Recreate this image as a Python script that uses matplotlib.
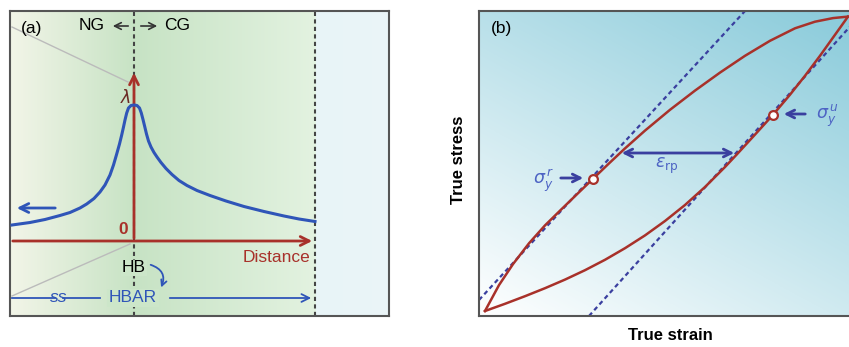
import matplotlib
matplotlib.use("Agg")
import matplotlib.pyplot as plt
import numpy as np

plt.rcParams['font.family'] = ['Liberation Sans', 'DejaVu Sans']

# ---- panel (a): lambda vs distance from the boundary (HB at 0) ----
dist = [-122, -104, -89, -74, -64, -54, -47.3, -40, -34, -29, -24, -20.5, -17.3,
        -14.5, -12.3, -10.5, -9, -7.3, -5.5, -3, 0, 3, 5.5, 7.3, 9, 10.7, 12.5,
        14.5, 17, 20, 23, 27, 32, 38, 45, 53, 63, 76, 92, 110, 130, 150, 165, 181]
lam = [16, 18.5, 21.5, 25.5, 28.5, 33, 37, 42.5, 49, 56, 66, 76, 87,
       97, 106, 114, 121, 128, 133, 135.5, 136, 135.5, 133, 128, 121.5, 114.5, 107,
       100, 94, 88.5, 84, 78.5, 72.5, 66.5, 60.5, 55.5, 50.5, 45.5, 40, 34.5, 29.5,
       25, 22, 19.5]
hbar_end = 181      # end of the HBAR zone

# ---- panel (b): loading / unloading loop (arbitrary units) ----
load_strain = [0, 14, 28, 44, 60, 76, 92, 108, 124, 140, 160, 185, 210, 235, 260,
               285, 310, 330, 348, 363]
load_stress = [0, 25.9, 46.9, 67.7, 85.6, 101.3, 116.8, 132.2, 147.6, 162.6, 180.4,
               201.2, 220.4, 238.4, 255.2, 270.2, 282.7, 289.3, 292.9, 294.4]
unload_strain = [0, 20, 40, 60, 80, 100, 120, 140, 160, 180, 200, 220, 240, 252,
                 270, 288, 305, 320, 335, 350, 363]
unload_stress = [0, 7.2, 14.8, 22.8, 31.4, 40.8, 51.2, 62.8, 75.6, 90, 106, 124, 144,
                 156.8, 176.4, 196.2, 216.3, 235.2, 255.2, 276.2, 294.4]
elastic1_strain = [-6, 260]
elastic1_stress = [11, 300]
elastic2_strain = [104, 375]
elastic2_stress = [-5, 295.5]
sig_r = (108, 132)
sig_u = (288, 196.5)
erp_strain = [134, 252]
erp_stress = 158

red = '#a8312a'
blue = '#2f55b8'
navy = '#3a3f9f'
lblue = '#4d63c4'
gray = '#444444'

W, H = 849, 347
fig = plt.figure(figsize=(W / 100, H / 100), dpi=100)
fs = 12.5


def add_panel(x0, x1, y0, y1, xlim, ylim):
    ax = fig.add_axes([x0 / W, 1 - y1 / H, (x1 - x0) / W, (y1 - y0) / H])
    ax.set_xlim(*xlim)
    ax.set_ylim(*ylim)
    ax.set_xticks([])
    ax.set_yticks([])
    for s in ax.spines.values():
        s.set_color('#555555')
        s.set_linewidth(1.5)
    return ax


# ================= panel (a) =================
ax = add_panel(10, 389, 11, 316, (-124, 255), (-75, 230))
xs = np.linspace(-124, 255, 400)
stops_x = [-124, 0, hbar_end, hbar_end + 0.01, 255]
stops_c = np.array([[0.95, 0.96, 0.91], [0.78, 0.89, 0.77], [0.89, 0.95, 0.88],
                    [0.91, 0.96, 0.97], [0.92, 0.96, 0.97]])
grad = np.stack([np.interp(xs, stops_x, stops_c[:, k]) for k in range(3)], axis=-1)
ax.imshow(grad[None, :, :], extent=(-124, 255, -75, 230), aspect='auto', zorder=0)

ax.plot([-122, -6], [214, 159], color='#bbbbbb', lw=1, zorder=1)
ax.plot([-122, -4], [-55, -3], color='#bbbbbb', lw=1, zorder=1)

for xv in (0, hbar_end):
    ax.plot([xv, xv], [-75, 230], color=gray, lw=1.5, ls=(0, (2, 1.6)), zorder=2)

ax.annotate('', xy=(0, 171), xytext=(0, 0),
            arrowprops=dict(arrowstyle='->', color=red, lw=2, mutation_scale=16), zorder=4)
ax.annotate('', xy=(hbar_end, 0), xytext=(-124, 0),
            arrowprops=dict(arrowstyle='->', color=red, lw=2, mutation_scale=16), zorder=4)
ax.plot(dist, lam, color=blue, lw=2.2, zorder=5, solid_joinstyle='round')
ax.annotate('', xy=(-120, 33), xytext=(-76, 33),
            arrowprops=dict(arrowstyle='->', color=blue, lw=2, mutation_scale=16))

ax.text(-102, 213, '(a)', fontsize=fs, ha='center', va='center')
ax.text(-42, 215, 'NG', fontsize=fs, ha='center', va='center')
ax.text(43, 215, 'CG', fontsize=fs, ha='center', va='center')
ax.annotate('', xy=(-24, 215), xytext=(-3, 215),
            arrowprops=dict(arrowstyle='->', color='#333333', lw=1.2, mutation_scale=12))
ax.annotate('', xy=(26, 215), xytext=(4, 215),
            arrowprops=dict(arrowstyle='->', color='#333333', lw=1.2, mutation_scale=12))
ax.text(-8, 144, r'$\lambda$', fontsize=fs, color='#6b2a25', ha='center', va='center')
ax.text(-11, 12, '0', fontsize=fs, color=red, ha='center', va='center',
        fontweight='bold')
ax.text(176, -17, 'Distance', fontsize=fs, color=red, ha='right', va='center')
ax.text(0, -27, 'HB', fontsize=fs, ha='center', va='center', zorder=6,
        bbox=dict(boxstyle='square,pad=0.05', fc=(0.80, 0.90, 0.79), ec='none'))
ax.annotate('', xy=(26, -49), xytext=(14, -23),
            arrowprops=dict(arrowstyle='->', color=blue, lw=1.3, mutation_scale=10,
                            connectionstyle='arc3,rad=-0.6'))
ax.plot([-122, -79], [-57, -57], color=blue, lw=1.3)
ax.text(-75, -57, 'ss', fontsize=fs, color=blue, style='italic', ha='center', va='center')
ax.plot([-71, -34], [-57, -57], color=blue, lw=1.3)
ax.text(-1, -57, 'HBAR', fontsize=fs, color=blue, ha='center', va='center', zorder=6,
        bbox=dict(boxstyle='square,pad=0.1', fc=(0.80, 0.90, 0.79), ec='none'))
ax.annotate('', xy=(180, -57), xytext=(33, -57),
            arrowprops=dict(arrowstyle='->', color=blue, lw=1.3, mutation_scale=14))

# ================= panel (b) =================
bx = add_panel(479, 860, 11, 316, (-6, 375), (-5, 300))
gx, gy = np.meshgrid(np.linspace(0, 1, 200), np.linspace(0, 1, 200))
t = np.clip(0.62 * (1 - gy) + 0.42 * gx, 0, 1)
c0 = np.array([1.0, 1.0, 1.0])
c1 = np.array([0.55, 0.80, 0.86])
img = c0 * (1 - t[..., None]) + c1 * t[..., None]
bx.imshow(img, extent=(-6, 375, -5, 300), aspect='auto', zorder=0)

bx.plot(elastic1_strain, elastic1_stress, color=navy, lw=1.6, ls=(0, (2, 1.5)), zorder=2)
bx.plot(elastic2_strain, elastic2_stress, color=navy, lw=1.6, ls=(0, (2, 1.5)), zorder=2)
bx.plot(load_strain, load_stress, color=red, lw=1.8, zorder=3, solid_joinstyle='round')
bx.plot(unload_strain, unload_stress, color=red, lw=1.8, zorder=3, solid_joinstyle='round')
bx.scatter([sig_r[0], sig_u[0]], [sig_r[1], sig_u[1]], s=40, facecolor='white',
           edgecolor=red, linewidth=1.6, zorder=5)
bx.annotate('', xy=(erp_strain[1], erp_stress), xytext=(erp_strain[0], erp_stress),
            arrowprops=dict(arrowstyle='<->', color=navy, lw=2, mutation_scale=14), zorder=4)
bx.text(182, 145, r'$\varepsilon_{\mathrm{rp}}$', fontsize=fs, color=lblue,
        ha='center', va='center')
bx.annotate('', xy=(101, 133), xytext=(73, 133),
            arrowprops=dict(arrowstyle='->', color=navy, lw=2, mutation_scale=14))
bx.text(59, 130, r'$\sigma_y^{\,r}$', fontsize=fs, color=lblue, ha='center', va='center')
bx.annotate('', xy=(296, 197), xytext=(323, 197),
            arrowprops=dict(arrowstyle='->', color=navy, lw=2, mutation_scale=14))
bx.text(342, 195, r'$\sigma_y^{\,u}$', fontsize=fs, color=lblue, ha='center', va='center')
bx.text(16, 283, '(b)', fontsize=fs, ha='center', va='center')

fig.text(459 / W, 1 - 160 / H, 'True stress', fontsize=12, fontweight='bold',
         rotation=90, ha='center', va='center')
fig.text(670 / W, 1 - 335 / H, 'True strain', fontsize=12, fontweight='bold',
         ha='center', va='center')

fig.savefig('out.png', dpi=100)
